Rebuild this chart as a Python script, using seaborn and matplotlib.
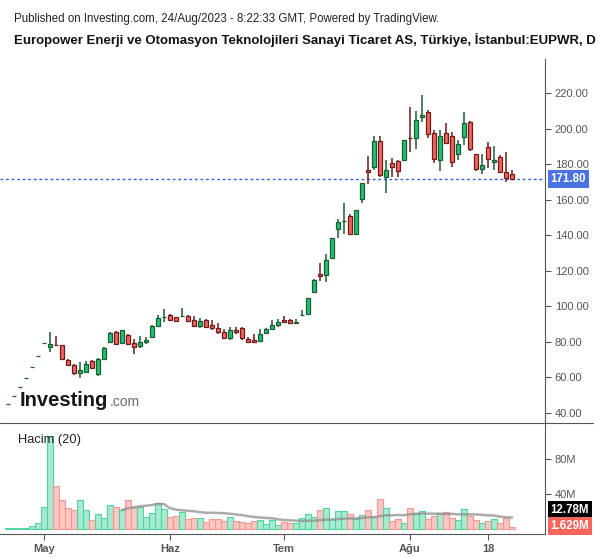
import numpy as np
import pandas as pd
import seaborn as sns
import matplotlib.pyplot as plt
from matplotlib.lines import Line2D

# daily bars (TL), first row = first ceiling day after IPO
opens = [45.0, 49.5, 54.4, 59.5, 65.5, 72.1, 79.2, 77.2, 78.1, 78.0,
         69.7, 66.7, 62.2, 62.8, 69.1, 61.6, 70.3, 80.0, 85.3, 79.1,
         83.8, 79.1, 77.8, 79.7, 82.8, 89.0, 93.8, 95.1, 93.8, 94.4,
         94.5, 92.1, 89.0, 92.1, 89.3, 87.6, 85.5, 82.3, 86.4, 87.6,
         81.4, 81.0, 80.6, 85.1, 87.4, 89.3, 92.3, 92.3, 90.4, 95.0,
         95.5, 107.9, 118.0, 117.8, 127.4, 143.4, 148.2, 150.9, 140.6, 160.3,
         176.8, 178.3, 193.2, 173.0, 180.6, 181.7, 182.3, 194.8, 194.7, 206.5,
         209.3, 197.5, 182.6, 197.5, 196.0, 185.7, 195.6, 203.7, 185.7, 177.2,
         189.6, 181.1, 184.1, 175.5, 174.4]
highs = [45.0, 49.5, 54.4, 59.5, 65.5, 72.1, 79.2, 85.7, 83.2, 78.4,
         70.2, 67.4, 68.4, 69.0, 69.9, 71.1, 77.0, 85.3, 85.8, 86.8,
         84.2, 81.4, 83.2, 82.4, 89.2, 95.3, 98.5, 95.6, 94.2, 98.8,
         95.3, 94.5, 93.6, 92.6, 92.3, 90.6, 87.0, 88.5, 88.3, 88.5,
         82.8, 84.4, 87.2, 87.9, 92.3, 92.8, 94.5, 92.8, 92.8, 97.9,
         104.8, 115.5, 124.2, 129.5, 138.6, 149.2, 158.0, 151.8, 154.5, 169.5,
         184.7, 196.0, 196.0, 182.4, 183.4, 182.6, 193.8, 212.5, 210.1, 219.1,
         210.6, 199.4, 199.4, 203.5, 198.4, 193.7, 209.5, 204.5, 186.0, 185.8,
         192.6, 190.3, 185.5, 187.1, 176.8]
lows = [45.0, 49.5, 54.4, 59.5, 65.5, 72.1, 79.2, 74.4, 77.9, 70.0,
        66.5, 61.5, 59.4, 62.2, 64.6, 60.5, 70.0, 79.1, 78.0, 78.6,
        78.2, 73.1, 76.6, 78.8, 82.5, 88.5, 91.3, 91.8, 91.5, 94.2,
        91.2, 89.0, 88.0, 88.5, 86.6, 84.4, 81.3, 81.0, 84.4, 81.2,
        79.6, 80.0, 80.0, 84.8, 86.6, 88.5, 91.3, 90.0, 90.0, 94.5,
        95.3, 107.5, 114.4, 113.8, 126.8, 138.6, 140.7, 140.6, 140.3, 158.4,
        168.8, 177.0, 173.0, 164.0, 173.0, 173.0, 182.0, 187.1, 188.8, 204.0,
        195.0, 180.9, 176.4, 191.5, 178.7, 182.4, 190.9, 187.6, 176.5, 174.4,
        177.8, 176.8, 175.0, 170.2, 171.2]
closes = [45.0, 49.5, 54.4, 59.5, 65.5, 72.1, 79.2, 78.6, 78.0, 70.3,
          66.9, 62.2, 64.1, 67.3, 65.0, 70.1, 76.6, 84.8, 78.6, 86.4,
          78.6, 77.2, 79.7, 81.0, 88.9, 93.2, 94.0, 92.1, 91.9, 94.5,
          91.5, 89.0, 91.5, 88.5, 87.6, 85.3, 81.9, 86.4, 85.7, 81.9,
          80.0, 80.0, 84.4, 87.0, 89.3, 91.0, 91.3, 90.4, 91.3, 95.1,
          104.5, 114.8, 117.0, 125.9, 138.3, 147.3, 148.3, 140.6, 154.3, 169.3,
          175.5, 193.2, 173.8, 176.8, 178.3, 176.1, 193.5, 194.7, 204.8, 207.8,
          196.9, 182.8, 196.0, 191.9, 181.1, 191.3, 203.1, 188.5, 177.2, 179.5,
          182.8, 182.4, 175.5, 172.5, 171.8]
# volume in millions
volumes = [0.4, 0.4, 0.5, 0.6, 2.9, 6.0, 24.4, 106.6, 49.0, 32.9,
           23.3, 21.3, 32.9, 21.3, 9.8, 16.3, 11.7, 27.1, 24.4, 21.3,
           32.9, 24.4, 24.4, 13.6, 17.5, 29.8, 22.1, 12.9, 14.4, 18.7,
           11.0, 11.7, 11.7, 7.1, 10.5, 10.5, 8.6, 12.9, 8.6, 7.1,
           6.0, 8.6, 9.8, 4.8, 9.8, 4.0, 7.9, 6.0, 6.0, 11.7,
           16.3, 12.9, 21.3, 23.3, 10.5, 20.2, 20.2, 16.7, 11.0, 15.2,
           21.3, 13.6, 34.0, 23.3, 8.6, 11.0, 6.0, 23.3, 18.3, 20.2,
           11.0, 14.4, 18.3, 18.7, 11.7, 9.8, 22.1, 14.4, 9.8, 6.0,
           8.6, 11.0, 6.0, 11.7, 1.629]

tick_pos = [6, 27, 46, 67, 80]
tick_labels = ['May', 'Haz', 'Tem', 'Ağu', '18']
price_ticks = [40, 60, 80, 100, 120, 140, 160, 180, 200, 220]
vol_ticks = [40, 80]
last_price = 171.80
ma_label = '12.78M'
last_vol_label = '1.629M'

df = pd.DataFrame({'open': opens, 'high': highs, 'low': lows,
                   'close': closes, 'volume': volumes})
df['idx'] = np.arange(len(df))
df['up'] = df['close'] >= df['open']
df['vol_ma'] = df['volume'].rolling(20).mean()

sns.set_style('white')
plt.rcParams['font.family'] = ['Liberation Sans', 'DejaVu Sans']

W, H = 600, 558
fig = plt.figure(figsize=(W / 100, H / 100), dpi=100)
ax = fig.add_axes([0, 1 - 423 / H, 545 / W, (423 - 59) / H])
axv = fig.add_axes([0, 1 - 534 / H, 545 / W, (534 - 423) / H])

axis_col = '#555555'
green_fill, green_edge = '#22c173', '#1c5c35'
red_fill, red_edge = '#f6645c', '#6b1c1c'

# candles
fills = np.where(df['up'], green_fill, red_fill)
edges = np.where(df['up'], green_edge, red_edge)
body_lo = np.minimum(df['open'], df['close'])
body_h = np.maximum((df['close'] - df['open']).abs(), 0.05)
ax.vlines(df['idx'], df['low'], df['high'], colors=edges, lw=1.1, zorder=2)
ax.bar(df['idx'], body_h, bottom=body_lo, width=0.74, color=fills,
       edgecolor=edges, linewidth=0.9, zorder=3)
ax.axhline(last_price, color='#2f63ee', ls=(0, (2, 2)), lw=1.0, zorder=1)

# volume
vfill = np.where(df['up'], '#a6ead0', '#fcc6c2')
vedge = np.where(df['up'], '#52d49f', '#f49891')
axv.bar(df['idx'], df['volume'], width=0.92, color=vfill, edgecolor=vedge,
        linewidth=0.8, zorder=2)
sns.lineplot(data=df, x='idx', y='vol_ma', ax=axv, color='#8f8f8f',
             lw=1.8, alpha=0.75, zorder=3)

for a in (ax, axv):
    a.set_xlim(-1.333, 89.5)
    a.set_xlabel('')
    a.set_ylabel('')
    for s in ('top', 'left', 'bottom'):
        a.spines[s].set_visible(False)
    a.spines['right'].set_color(axis_col)
    a.spines['right'].set_linewidth(0.8)
    a.yaxis.tick_right()
    a.tick_params(axis='y', right=True, left=False, length=4, width=0.8,
                  colors=axis_col, labelsize=8, pad=3)

ax.set_ylim(34.2, 239.4)
ax.set_yticks(price_ticks, [f'{p:.2f}' for p in price_ticks])
ax.set_xticks([])

axv.set_ylim(-6.3, 121.6)
axv.set_yticks(vol_ticks, [f'{v}M' for v in vol_ticks])
axv.spines['bottom'].set_visible(True)
axv.spines['bottom'].set_color(axis_col)
axv.spines['bottom'].set_linewidth(0.8)
axv.set_xticks(tick_pos, tick_labels)
axv.tick_params(axis='x', bottom=True, length=4, width=0.8, colors=axis_col,
                labelsize=8, pad=3)
for t in axv.get_xticklabels():
    t.set_fontweight('bold')

# separator between panes
fig.add_artist(Line2D([0, 593 / W], [1 - 423 / H] * 2, color=axis_col,
                      lw=0.8, transform=fig.transFigure))

# value labels on the scales
ax.annotate(f'{last_price:.2f}', xy=(1, last_price),
            xycoords=ax.get_yaxis_transform(), xytext=(4, 0),
            textcoords='offset points', ha='left', va='center',
            color='white', fontweight='bold', fontsize=8.3,
            bbox=dict(boxstyle='square,pad=0.25', fc='#4a72e0', ec='none'))
axv.annotate(ma_label, xy=(1, 0.216), xycoords='axes fraction',
             xytext=(4, 0), textcoords='offset points', ha='left',
             va='center', color='white', fontweight='bold', fontsize=8.3,
             bbox=dict(boxstyle='square,pad=0.25', fc='black', ec='none'))
axv.annotate(last_vol_label, xy=(1, 0.072), xycoords='axes fraction',
             xytext=(4, 0), textcoords='offset points', ha='left',
             va='center', color='white', fontweight='bold', fontsize=8.3,
             bbox=dict(boxstyle='square,pad=0.25', fc='#f6645c', ec='none'))

# header and watermark
fig.text(14 / W, 1 - 19 / H,
         'Published on Investing.com, 24/Aug/2023 - 8:22:33 GMT, Powered by TradingView.',
         fontsize=8.3, color='#222222', va='center')
fig.text(14 / W, 1 - 40 / H,
         'Europower Enerji ve Otomasyon Teknolojileri Sanayi Ticaret AS, Türkiye, İstanbul:EUPWR, D',
         fontsize=9.5, fontweight='bold', color='#111111', va='center')
fig.text(18 / W, 1 - 440 / H, 'Hacim (20)', fontsize=9.3, color='#222222',
         va='center')
fig.text(20 / W, 1 - 406 / H, 'Investing', fontsize=14.5, fontweight='bold',
         color='#161616', va='baseline')
fig.text(110 / W, 1 - 406 / H, '.com', fontsize=10, color='#6b6b6b',
         va='baseline')

fig.savefig('out.png', dpi=100)
